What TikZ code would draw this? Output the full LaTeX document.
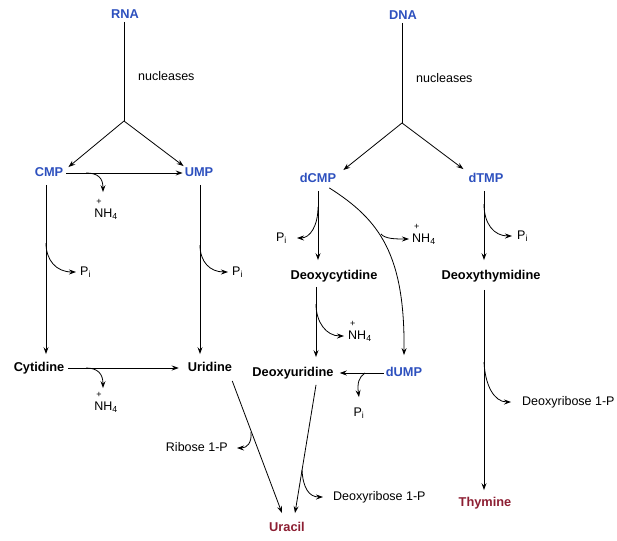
\documentclass[tikz,border=0pt]{standalone}
\usepackage{fontspec}
\setmainfont{Liberation Sans}
\usetikzlibrary{arrows.meta}
\definecolor{nblue}{RGB}{45,80,190}
\definecolor{nred}{RGB}{140,30,50}
\newcommand{\nhfour}{\rlap{\raisebox{12.5pt}{\kern2pt\fontsize{9}{9}\selectfont +}}NH\textsubscript{4}}
\newcommand{\pee}{P\textsubscript{i}}
\tikzset{
  lbl/.style={font=\fontsize{12.5}{14}\selectfont, inner sep=1pt, text height=9pt, text depth=2.5pt},
  mol/.style={font=\fontsize{12.8}{14}\selectfont\bfseries, inner sep=1pt, text height=9pt, text depth=2.5pt},
  bmol/.style={mol, text=nblue},
  rmol/.style={mol, text=nred},
  ln/.style={line width=0.8pt},
  arr/.style={ln, -{Stealth[length=7pt,width=5pt,inset=2.5pt]}}
}
\begin{document}
\begin{tikzpicture}[x=1pt,y=-1pt]
\useasboundingbox (0,0) rectangle (617,540);
% nodes
\node[bmol] (RNA) at (125,15) {RNA};
\node[lbl,anchor=west] (nuc1) at (137,77) {nucleases};
\node[bmol] (CMP) at (49,173) {CMP};
\node[bmol] (UMP) at (199,173) {UMP};
\node[lbl] (NH1) at (106,214) {\nhfour};
\node[lbl,anchor=west] (Pi1) at (79,272) {\pee};
\node[lbl,anchor=west] (Pi2) at (231,272) {\pee};
\node[mol] (Cyt) at (39,368) {Cytidine};
\node[mol] (Uri) at (210,368) {Uridine};
\node[lbl] (NH2) at (106,407) {\nhfour};
\node[lbl,anchor=east] (Rib) at (229,448) {Ribose 1-P};
\node[rmol] (Ura) at (287,528) {Uracil};
\node[bmol] (DNA) at (403,16) {DNA};
\node[lbl,anchor=west] (nuc2) at (415,79) {nucleases};
\node[bmol] (dCMP) at (318,179) {dCMP};
\node[bmol] (dTMP) at (486,179) {dTMP};
\node[lbl,anchor=east] (Pi3) at (288,238) {\pee};
\node[lbl,anchor=west] (NH3) at (411,239) {\nhfour};
\node[mol] (dCyd) at (334,276) {Deoxycytidine};
\node[lbl,anchor=west] (Pi4) at (516,236) {\pee};
\node[mol] (dThd) at (491,276) {Deoxythymidine};
\node[lbl,anchor=west] (NH5) at (347,336) {\nhfour};
\node[mol] (dUrd) at (293,373) {Deoxyuridine};
\node[bmol] (dUMP) at (404,373) {dUMP};
\node[lbl] (Pi5) at (359,413) {\pee};
\node[lbl,anchor=west] (dR1) at (332,497) {Deoxyribose 1-P};
\node[lbl,anchor=west] (dR2) at (521,402) {Deoxyribose 1-P};
\node[rmol] (Thy) at (485,503) {Thymine};
% junctions and branch points
\coordinate (jR) at (124,121);
\coordinate (jD) at (402,123);
\coordinate (b1) at (86,173);
\coordinate (b2) at (46,243);
\coordinate (b3) at (200,245);
\coordinate (b4) at (86,368);
\coordinate (b5) at (251,432);
\coordinate (b6) at (302,470);
\coordinate (b7) at (318,207);
\coordinate (b8) at (381,234);
\coordinate (b9) at (484,204);
\coordinate (b10) at (316,304);
\coordinate (b11) at (365,373);
\coordinate (b12) at (484,362);
% RNA side
\draw[ln] (RNA.south -| jR) -- (jR);
\draw[arr] (jR) -- ([shift={(4pt,-1pt)}]CMP.north east);
\draw[arr] (jR) -- (UMP.north west);
\draw[arr,shorten <=2pt,shorten >=1pt] (CMP.east) -- (UMP.west);
\draw[arr] (b1) .. controls (98,173) and (103,178) .. ([shift={(-3pt,15pt)}]NH1.north);
\draw[arr,shorten <=5pt,shorten >=7pt] ([xshift=-3pt]CMP.south) -- ([xshift=7pt]Cyt.north);
\draw[arr] (b2) .. controls (46,260) and (56,272) .. ([xshift=-3pt]Pi1.west);
\draw[arr,shorten <=5pt,shorten >=7pt] ([xshift=1pt]UMP.south) -- ([xshift=-10pt]Uri.north);
\draw[arr] (b3) .. controls (200,262) and (210,272) .. ([xshift=-3pt]Pi2.west);
\draw[arr,shorten <=3pt,shorten >=8pt] (Cyt.east) -- (Uri.west);
\draw[arr] (b4) .. controls (98,368) and (103,374) .. ([shift={(-3pt,12pt)}]NH2.north);
\draw[arr] ([shift={(-1pt,-6pt)}]Uri.south east) -- ([shift={(-5pt,8pt)}]Ura.north);
\draw[arr] (b5) .. controls (252,443) and (247,448) .. ([xshift=8pt]Rib.east);
% DNA side
\draw[ln] (DNA.south -| jD) -- (jD);
\draw[arr] (jD) -- ([shift={(6pt,2pt)}]dCMP.north east);
\draw[arr] (jD) -- ([shift={(-4pt,3pt)}]dTMP.north west);
\draw[arr,shorten <=5pt,shorten >=9pt] (dCMP.south) -- ([xshift=-16pt]dCyd.north);
\draw[arr] (b7) .. controls (318,226) and (310,238) .. ([xshift=9pt]Pi3.east);
\draw[arr] ([shift={(-8pt,-2pt)}]dCMP.south east) .. controls (380,220) and (405,255) .. ([yshift=11pt]dUMP.north);
\draw[arr] (b8) .. controls (385,239) and (396,239) .. ([xshift=-2pt]NH3.west);
\draw[arr,shorten <=5pt,shorten >=9pt] ([xshift=-2pt]dTMP.south) -- ([xshift=-7pt]dThd.north);
\draw[arr] (b9) .. controls (484,224) and (494,236) .. ([xshift=-4pt]Pi4.west);
\draw[arr,shorten <=4pt,shorten >=9pt] ([xshift=-18pt]dCyd.south) -- ([xshift=23pt]dUrd.north);
\draw[arr] (b10) .. controls (316,322) and (326,336) .. ([xshift=-3pt]NH5.west);
\draw[arr,shorten <=1pt,shorten >=5pt] (dUMP.west) -- (dUrd.east);
\draw[arr] (b11) .. controls (359,377) and (357,383) .. ([yshift=9pt]Pi5.north);
\draw[arr] ([shift={(23pt,-5pt)}]dUrd.south) -- ([shift={(8pt,8pt)}]Ura.north);
\draw[arr] (b6) .. controls (303,488) and (309,497) .. ([xshift=-9pt]dR1.west);
\draw[arr,shorten <=7pt,shorten >=6pt] ([xshift=-7pt]dThd.south) -- ([xshift=-1pt]Thy.north);
\draw[arr] (b12) .. controls (485,385) and (494,402) .. ([xshift=-10pt]dR2.west);
\end{tikzpicture}
\end{document}
